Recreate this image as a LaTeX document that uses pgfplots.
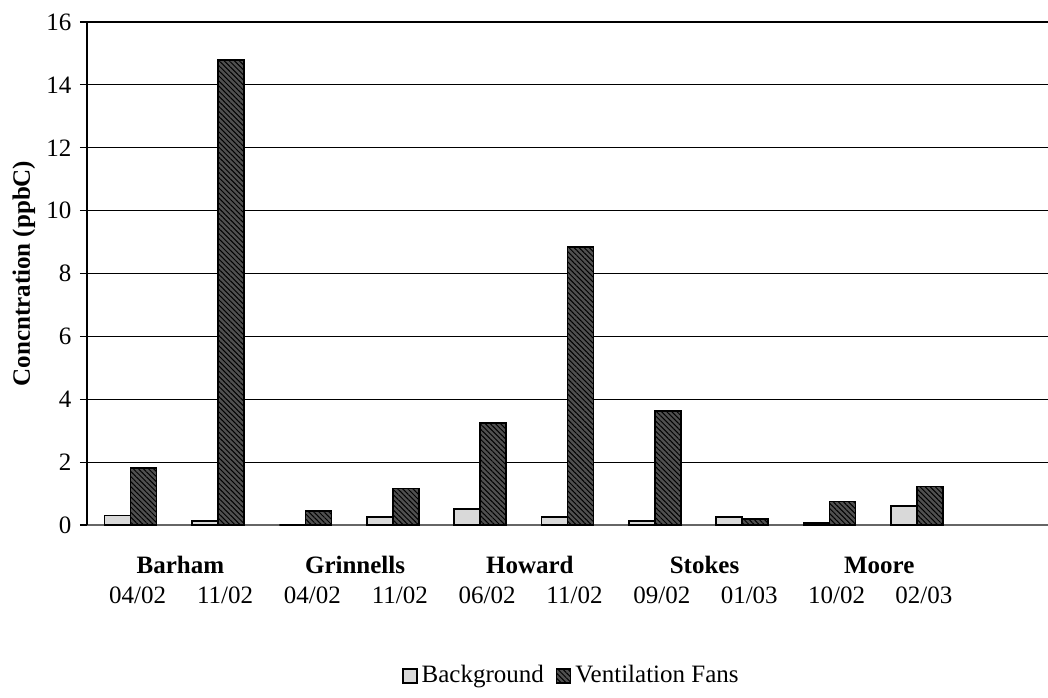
\documentclass[border=0pt]{standalone}
\usepackage{pgfplots}
\pgfplotsset{compat=1.18}
\usepackage{fontspec}
\setmainfont{Liberation Serif}
\usetikzlibrary{patterns.meta}
\definecolor{bgfill}{HTML}{D9D9D9}
\definecolor{ventfill}{HTML}{505050}
\newcommand{\bigf}{\fontsize{12.5}{15}\selectfont}
\begin{document}
\bigf
\begin{tikzpicture}
\useasboundingbox (-43.5pt,-86pt) rectangle (480.5pt,262.5pt);
\begin{axis}[
  at={(0,0)}, anchor=south west,
  width=480.5pt, height=251.5pt, scale only axis,
  xmin=-0.5, xmax=10.5, ymin=0, ymax=16,
  ytick={0,2,...,16},
  ybar=0pt, bar width=13pt,
  axis x line*=bottom, axis y line*=left,
  x axis line style={draw=black!60, line width=0.8pt},
  y axis line style={draw=black, line width=0.6pt},
  ymajorgrids, grid style={black, line width=0.6pt},
  xtick={0,...,9},
  xticklabels={04/02,11/02,04/02,11/02,06/02,11/02,09/02,01/03,10/02,02/03},
  xticklabel style={font=\bigf, anchor=center, yshift=-31.5pt, xshift=3.5pt},
  yticklabel style={font=\bigf},
  major x tick style={draw=none},
  tick align=outside, major tick length=3.5pt,
  major y tick style={black, line width=0.6pt},
  /pgf/number format/assume math mode=true,
  ylabel={\bfseries Concntration (ppbC)},
  ylabel style={font=\bigf, yshift=-3pt},
  legend style={at={(0.505,-0.300)}, anchor=center, draw=none, legend columns=2,
    font=\bigf,
    /tikz/every even column/.append style={column sep=4pt}},
  legend image code/.code={\draw[#1] (0pt,-3.5pt) rectangle (7pt,3.5pt);},
  clip=false,
]
\addplot[draw=black, line width=0.8pt, fill=bgfill] coordinates {
  (0,0.30) (1,0.13) (2,0) (3,0.26) (4,0.50) (5,0.25) (6,0.12) (7,0.25) (8,0.07) (9,0.61)};
\addplot[draw=black, line width=0.8pt, fill=ventfill,
  postaction={pattern={Lines[angle=-45,distance=1.8pt,line width=0.5pt]}, pattern color=black}] coordinates {
  (0,1.81) (1,14.8) (2,0.45) (3,1.16) (4,3.25) (5,8.85) (6,3.62) (7,0.20) (8,0.75) (9,1.22)};
\legend{Background, Ventilation Fans}
\node[font=\bigf\bfseries, anchor=center, yshift=-20pt, xshift=3pt] at (axis cs:0.5,0) {Barham};
\node[font=\bigf\bfseries, anchor=center, yshift=-20pt, xshift=3pt] at (axis cs:2.5,0) {Grinnells};
\node[font=\bigf\bfseries, anchor=center, yshift=-20pt, xshift=3pt] at (axis cs:4.5,0) {Howard};
\node[font=\bigf\bfseries, anchor=center, yshift=-20pt, xshift=3pt] at (axis cs:6.5,0) {Stokes};
\node[font=\bigf\bfseries, anchor=center, yshift=-20pt, xshift=3pt] at (axis cs:8.5,0) {Moore};
\end{axis}
\end{tikzpicture}
\end{document}
